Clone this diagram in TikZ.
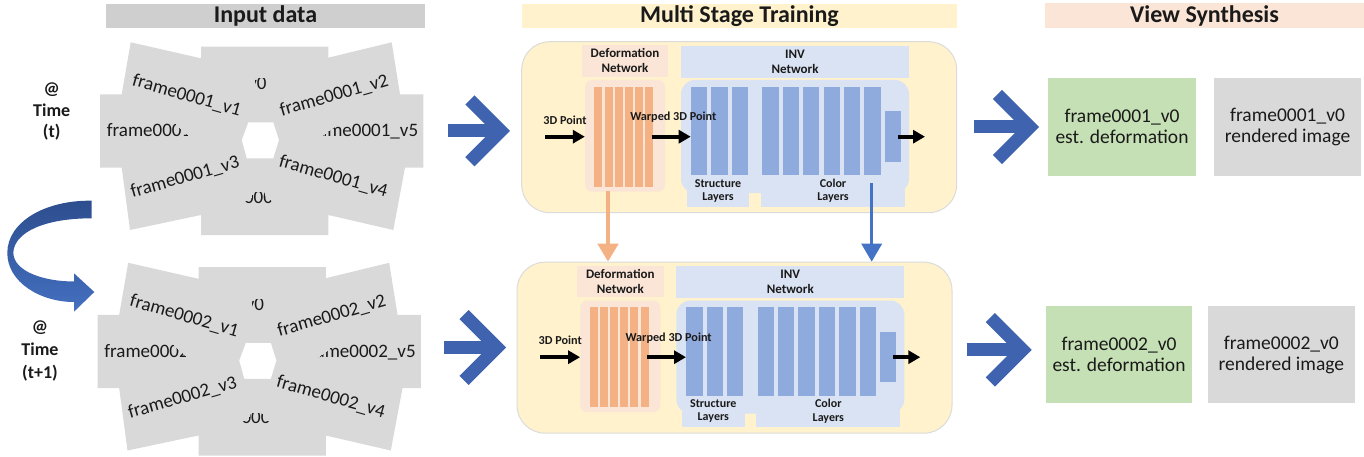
\documentclass[tikz,border=0pt]{standalone}
\usepackage{fontspec}
\setmainfont{Carlito}
\usetikzlibrary{arrows.meta}

\definecolor{hdrgrey}{HTML}{CFCFCF}
\definecolor{fangrey}{HTML}{D9D9D9}
\definecolor{panelyel}{HTML}{FFF2CC}
\definecolor{peach}{HTML}{FBE5D6}
\definecolor{orangebar}{HTML}{F4B183}
\definecolor{lightblue}{HTML}{DAE3F3}
\definecolor{bluebar}{HTML}{8FAADC}
\definecolor{outgreen}{HTML}{C5E0B4}
\definecolor{outgrey}{HTML}{D9D9D9}
\definecolor{chevblue}{RGB}{64,99,176}
\definecolor{linkblue}{HTML}{4472C4}
\definecolor{ribbondark}{RGB}{45,78,142}
\definecolor{ribbonlight}{RGB}{68,112,192}
\definecolor{ink}{HTML}{1A1A1A}

% one fan of camera views around a hexagonal hole
\newcommand{\viewfan}[2]{%
  \fill[fangrey, even odd rule]
    (201,46.7) -- (328.3,46.7) -- (328.3,57.7) -- (391.7,42.3) -- (400,94.3) --
    (423.3,94.3) -- (423.3,167.7) -- (405,167.7) -- (393.3,230) -- (328.3,215) --
    (328.3,235) -- (201,235) -- (201,215) -- (130,230) -- (121.7,167.7) --
    (100,167.7) -- (100,94.3) -- (121.7,94.3) -- (130.7,42.3) -- (201,58.3) -- cycle
    (248.3,122.3) -- (273.3,122.3) -- (279,140) -- (273.3,158.3) -- (246.7,158.3) -- (241.7,140) -- cycle;
  \node[fantext, rotate=-16] (#1v1) at (186.7,95.8) {frame#2\_v1};
  \node[fantext, rotate=16] (#1v2) at (334.2,95.8) {frame#2\_v2};
  \node[fantext, rotate=16] (#1v3) at (185,177.5) {frame#2\_v3};
  \node[fantext, rotate=-16] (#1v4) at (333.3,176.7) {frame#2\_v4};
  \begin{scope}
    \clip (95,105) -- (160,105) -- (165,115) -- (198,145) -- (95,145) -- cycle;
    \node[fantext, anchor=base west] (#1vl) at (106.7,136.7) {frame#2};
  \end{scope}
  \begin{scope}
    \clip (305,145) -- (322,136) -- (348,116) -- (348,105) -- (430,105) -- (430,145) -- cycle;
    \node[fantext, anchor=base east] (#1v5) at (418.3,136.7) {frame#2\_v5};
  \end{scope}
  \begin{scope}
    \clip (255,79) rectangle (270,96);
    \node[fantext, anchor=base east] (#1vt) at (266.7,90) {v0};
  \end{scope}
  \begin{scope}
    \clip (238,210) -- (238,203) -- (251,199) -- (253,192) -- (264,192) -- (266,199) -- (279,203) -- (279,210) -- cycle;
    \node[fantext, anchor=base] (#1vb) at (258.5,203) {000};
  \end{scope}
}

% one training stage: deformation network feeding the INV network
\newcommand{\stagepanel}[1]{%
  \node[panelbox, minimum width=435pt, minimum height=171pt] (#1panel) at (739.2,127.2) {};
  \node[lblbox, fill=peach, minimum width=86.6pt, minimum height=31.7pt] (#1dlab) at (625,60.85) {Deformation\\Network};
  \node[fill=peach, rounded corners=7pt, minimum width=80pt, minimum height=111.7pt, inner sep=0pt] (#1dbody) at (625,135.85) {};
  \foreach \i in {0,...,5} \fill[orangebar] ({594.3+10.2*\i},86.7) rectangle ++(8,100);
  \node[lblbox, fill=lightblue, minimum width=228pt, minimum height=32pt] (#1ilab) at (795,61.7) {INV\\Network};
  \node[fill=lightblue, rounded corners=14pt, minimum width=228pt, minimum height=113pt, inner sep=0pt] (#1ibody) at (795,136.5) {};
  \node[lyrbox, minimum width=62.6pt, minimum height=31.7pt] (#1slab) at (718,190.85) {Structure\\Layers};
  \node[lyrbox, minimum width=144pt, minimum height=31.7pt] (#1clab) at (833,190.85) {Color\\Layers};
  \foreach \i in {0,1,2} \fill[bluebar] ({691+20.35*\i},86.7) rectangle ++(16.3,88.3);
  \foreach \i in {0,...,5} \fill[bluebar] ({762.3+20.4*\i},86.7) rectangle ++(16.3,88.3);
  \node[fill=bluebar, minimum width=15.7pt, minimum height=50.7pt, inner sep=0pt] (#1obox) at (892.85,136.35) {};
  \coordinate (#1in) at (545,136.7);
  \coordinate (#1wfrom) at (651.7,136.7);
  \coordinate (#1wto) at (690.7,136.7);
  \coordinate (#1ofrom) at (898,136.7);
  \coordinate (#1oto) at (925,136.7);
  \draw[blkarrow] (#1in) -- (#1dbody.west |- #1in);
  \draw[blkarrow] (#1wfrom) -- (#1wto);
  \draw[blkarrow] (#1ofrom) -- (#1oto);
  \node[arrlbl] (#1inlbl) at (565,120) {3D Point};
  \node[arrlbl] (#1wlbl) at (673.3,117.3) {Warped 3D Point};
  \coordinate (#1dout) at (608,190.5);
  \coordinate (#1iout) at (871.7,183.3);
}

\begin{document}
\begin{tikzpicture}[x=1pt, y=-1pt,
  hdr/.style={inner sep=0pt, text=ink, font=\bfseries\fontsize{24}{24}\selectfont},
  fantext/.style={inner sep=0pt, text=ink, font=\fontsize{19}{19}\selectfont},
  panelbox/.style={fill=panelyel, draw=black!14, line width=1pt, rounded corners=28pt, inner sep=0pt},
  lblbox/.style={inner sep=0pt, align=center, text=ink, font=\bfseries\fontsize{13}{15}\selectfont},
  lyrbox/.style={fill=lightblue, inner sep=0pt, align=center, text=ink, font=\bfseries\fontsize{12}{13.3}\selectfont},
  arrlbl/.style={inner sep=0pt, text=ink, font=\bfseries\fontsize{12.2}{14}\selectfont},
  blkarrow/.style={line width=3.8pt, black, -{Triangle[length=12pt,width=13pt]}},
  chev/.style={line width=13pt, chevblue, line join=miter},
  outbox/.style={inner sep=0pt, align=center, text=ink, font=\fontsize{19.5}{21}\selectfont},
  timelbl/.style={inner sep=0pt, align=center, text=ink},
]
\useasboundingbox (0,0) rectangle (1364,457);

% column headers
\node[hdr, fill=hdrgrey, minimum width=319pt, minimum height=24pt] (hinput) at (265.5,16) {Input data};
\node[hdr, fill=panelyel, minimum width=435pt, minimum height=24pt] (htrain) at (739.5,16) {Multi Stage Training};
\node[hdr, fill=peach, minimum width=319pt, minimum height=25pt] (hview) at (1204.5,15.8) {View Synthesis};

% time stamps
\node[timelbl, font=\bfseries\fontsize{18}{21.7}\selectfont] (tnow) at (51.7,111.5) {@\\Time\\(t)};
\node[timelbl, font=\bfseries\fontsize{18}{22.8}\selectfont] (tnext) at (40,351) {@\\Time\\(t+1)};

% input view fans
\viewfan{fa}{0001}
\begin{scope}[shift={(-2.5,220.5)}]
  \viewfan{fb}{0002}
\end{scope}

% ribbon arrow from time t to time t+1
\shade[top color=ribbondark, bottom color=ribbonlight]
  (91.7,200.7) .. controls (45,200) and (7.3,222) .. (7.3,253)
  .. controls (7.3,282) and (40,302) .. (74,302)
  -- (74,311.7) -- (94.3,292) -- (74,273.3) -- (74,281.5)
  .. controls (45,281.5) and (14,272) .. (13.3,253)
  .. controls (14,232) and (45,218.3) .. (91.7,218.3) -- cycle;

% training stages
\stagepanel{t}
\begin{scope}[shift={(-4.7,220.5)}]
  \stagepanel{b}
\end{scope}

% weights handed to the next stage
\draw[line width=4.5pt, orangebar, -{Triangle[length=18pt,width=20pt]}] (tdout) -- (tdout |- bpanel.north);
\draw[line width=3.5pt, linkblue, -{Triangle[length=18pt,width=20pt]}] (tiout) -- (tiout |- bpanel.north);

% big flow arrows
\coordinate (ca1) at (448.3,130.8);  \coordinate (cv1) at (500.8,130.8);
\coordinate (cu1) at (469.9,99.9);   \coordinate (cd1) at (469.9,161.7);
\draw[chev] (ca1) -- (cv1);
\draw[chev] (cu1) -- (cv1) -- (cd1);
\coordinate (ca2) at (974,127);      \coordinate (cv2) at (1030,127);
\coordinate (cu2) at (997.4,94.4);   \coordinate (cd2) at (997.4,159.6);
\draw[chev] (ca2) -- (cv2);
\draw[chev] (cu2) -- (cv2) -- (cd2);
\coordinate (ca3) at (444,347.5);    \coordinate (cv3) at (497,347.5);
\coordinate (cu3) at (464,314.5);    \coordinate (cd3) at (464,380.5);
\draw[chev] (ca3) -- (cv3);
\draw[chev] (cu3) -- (cv3) -- (cd3);
\coordinate (ca4) at (966.7,349.8);  \coordinate (cv4) at (1022.5,349.8);
\coordinate (cu4) at (990.3,317.6);  \coordinate (cd4) at (990.3,382);
\draw[chev] (ca4) -- (cv4);
\draw[chev] (cu4) -- (cv4) -- (cd4);

% synthesised outputs
\node[outbox, fill=outgreen, minimum width=147.4pt, minimum height=98pt] (odef1) at (1122,126.7) {frame0001\_v0\\est. deformation};
\node[outbox, fill=outgrey, minimum width=147pt, minimum height=98pt] (oimg1) at (1287.5,126.7) {frame0001\_v0\\rendered image};
\node[outbox, fill=outgreen, minimum width=146.6pt, minimum height=97.6pt] (odef2) at (1119,354.5) {frame0002\_v0\\est. deformation};
\node[outbox, fill=outgrey, minimum width=147.3pt, minimum height=97.6pt] (oimg2) at (1281.35,354.5) {frame0002\_v0\\rendered image};
\end{tikzpicture}
\end{document}
